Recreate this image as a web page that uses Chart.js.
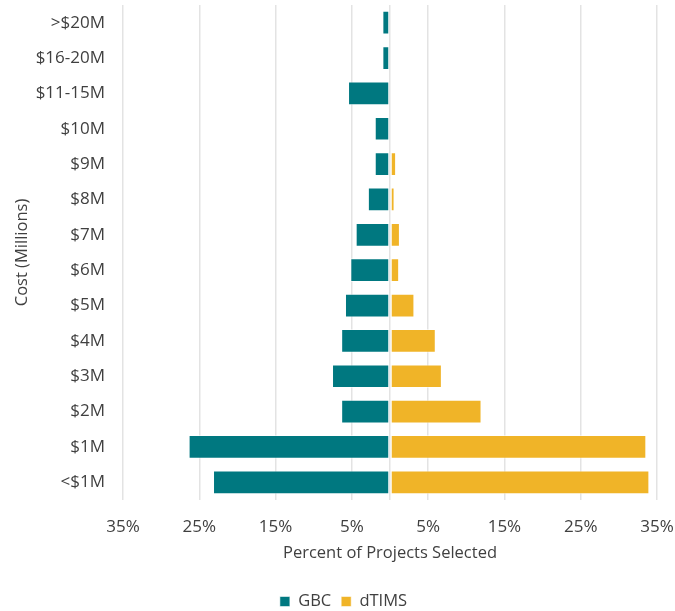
<!DOCTYPE html>
<html>
<head>
<meta charset="utf-8">
<script src="https://cdn.jsdelivr.net/npm/chart.js@4/dist/chart.umd.min.js"></script>
<style>
html,body{margin:0;padding:0;background:#fff;}
#wrap{width:675px;height:611px;position:relative;}
</style>
</head>
<body>
<div id="wrap"><canvas id="c" width="675" height="611"></canvas></div>
<script>
const categories = [">$20M","$16-20M","$11-15M","$10M","$9M","$8M","$7M","$6M","$5M","$4M","$3M","$2M","$1M","<$1M"];
const gbcValues   = [1.0, 1.0, 5.5, 2.0, 2.0, 2.9, 4.5, 5.2, 5.9, 6.4, 7.6, 6.4, 26.4, 23.2];
const dtimsValues = [0, 0, 0.2, 0, 0.8, 0.6, 1.3, 1.2, 3.2, 6.0, 6.8, 12.0, 33.6, 34.0];
const xTickValues = [-35, -25, -15, -5, 0, 5, 15, 25, 35];

const FONT = "'Open Sans', 'Noto Sans', sans-serif";
const TEXT = '#404040';

new Chart(document.getElementById('c'), {
  type: 'bar',
  data: {
    labels: categories,
    datasets: [
      { label: 'GBC', data: gbcValues.map(v => -v), backgroundColor: '#007880',
        borderColor: 'rgba(255,255,255,0.55)', borderWidth: 1, borderSkipped: false,
        categoryPercentage: 0.67, barPercentage: 1 },
      { label: 'dTIMS', data: dtimsValues, backgroundColor: '#F0B428',
        borderColor: 'rgba(255,255,255,0.55)', borderWidth: 1, borderSkipped: false,
        categoryPercentage: 0.67, barPercentage: 1 }
    ]
  },
  options: {
    indexAxis: 'y',
    responsive: false,
    animation: false,
    layout: { padding: { top: 5, right: 18, left: 30, bottom: -8.75 } },
    scales: {
      x: {
        stacked: true,
        min: -35, max: 35,
        afterBuildTicks: s => { s.ticks = xTickValues.map(v => ({ value: v })); },
        ticks: {
          callback: v => v === 0 ? '' : Math.abs(v) + '%',
          color: TEXT, font: { family: FONT, size: 17 }, padding: 16.5, maxRotation: 0, autoSkip: false
        },
        grid: { color: '#E3E3E3', lineWidth: 1.5, drawTicks: false },
        border: { display: false },
        title: { display: true, text: 'Percent of Projects Selected', color: TEXT,
                 font: { family: FONT, size: 16.5 }, padding: { top: 0, bottom: 20.35 } },
        afterFit: s => { s.height = 83.25; s.paddingLeft = 0; s.paddingRight = 0; }
      },
      y: {
        stacked: true,
        ticks: { color: TEXT, font: { family: FONT, size: 17 }, padding: 18 },
        grid: { display: false, drawTicks: false },
        border: { display: false },
        title: { display: true, text: 'Cost (Millions)', color: TEXT,
                 font: { family: FONT, size: 16.5 }, padding: { top: -18, bottom: 0 } },
        afterFit: s => { s.width = 93; s.paddingTop = 0; s.paddingBottom = 0; }
      }
    },
    plugins: {
      legend: {
        position: 'bottom',
        labels: { color: TEXT, font: { family: FONT, size: 16.5 }, boxWidth: 10, boxHeight: 10, padding: 10 }
      },
      tooltip: { enabled: false }
    }
  }
});
</script>
</body>
</html>
